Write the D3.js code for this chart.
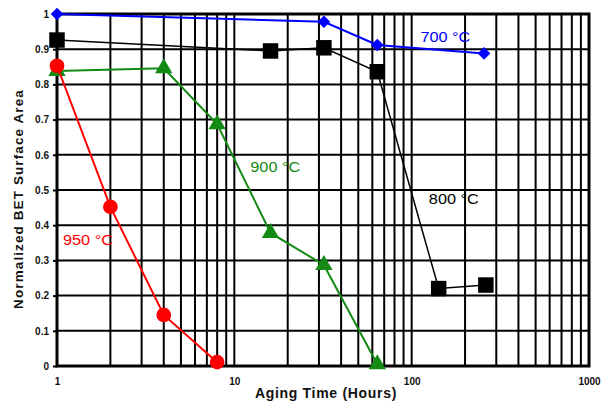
<!DOCTYPE html>
<html>
<head>
<meta charset="utf-8">
<script src="https://cdn.jsdelivr.net/npm/d3@7"></script>
<style>
  html, body { margin: 0; padding: 0; background: #fff; }
  svg { display: block; }
  text { font-family: "Liberation Sans", Arial, sans-serif; }
</style>
</head>
<body>
<svg id="chart" width="606" height="404"></svg>
<script>
// Aging time (hours) and normalized BET surface area for each aging temperature
const hours700 = [1, 32, 64, 256];
const area700 = [1.0, 0.978, 0.912, 0.888];

const hours800 = [1, 16, 32, 64, 142, 262];
const area800 = [0.926, 0.895, 0.904, 0.836, 0.22, 0.23];

const hours900 = [1, 4, 8, 16, 32, 64];
const area900 = [0.838, 0.846, 0.687, 0.378, 0.287, 0.005];

const hours950 = [1, 2, 4, 8];
const area950 = [0.853, 0.452, 0.145, 0.011];

const xTickValues = [1, 10, 100, 1000];
const yTickValues = [0, 0.1, 0.2, 0.3, 0.4, 0.5, 0.6, 0.7, 0.8, 0.9, 1];
const yTickLabels = ["0", "0.1", "0.2", "0.3", "0.4", "0.5", "0.6", "0.7", "0.8", "0.9", "1"];

const seriesNames = ["700 °C", "800 °C", "900 °C", "950 °C"];

const svg = d3.select("#chart");
const x = d3.scaleLog().domain([1, 1000]).range([57, 589]);
const y = d3.scaleLinear().domain([0, 1]).range([366, 14]);

// grid: horizontal lines every 0.1, vertical lines at each log minor tick
const grid = svg.append("g");
grid.selectAll("line.h").data(yTickValues).join("line")
  .attr("x1", x(1)).attr("x2", x(1000))
  .attr("y1", d => y(d)).attr("y2", d => y(d))
  .attr("stroke", "#000").attr("stroke-width", 2);
const minor = x.ticks(30).filter(v => v > 1 && v < 1000);
grid.selectAll("line.v").data(minor).join("line")
  .attr("x1", d => x(d)).attr("x2", d => x(d))
  .attr("y1", y(0)).attr("y2", y(1))
  .attr("stroke", "#000").attr("stroke-width", 2);

// plot frame
svg.append("rect")
  .attr("x", x(1)).attr("y", y(1))
  .attr("width", x(1000) - x(1)).attr("height", y(0) - y(1))
  .attr("fill", "none").attr("stroke", "#000").attr("stroke-width", 3);

// y axis ticks and labels
const yAxis = d3.axisLeft(y).tickValues(yTickValues)
  .tickFormat((d, i) => yTickLabels[i]).tickSize(4).tickPadding(4);
const gy = svg.append("g").attr("transform", `translate(${x(1)},0)`).call(yAxis);
gy.select(".domain").remove();
gy.selectAll(".tick line").attr("stroke", "#000").attr("stroke-width", 2);
gy.selectAll(".tick text").attr("font-size", 10).attr("font-weight", "bold").attr("fill", "#111");

// x axis labels
const xAxis = d3.axisBottom(x).tickValues(xTickValues).tickFormat(d3.format("d")).tickSize(0).tickPadding(12);
const gx = svg.append("g").attr("transform", `translate(0,${y(0)})`).call(xAxis);
gx.select(".domain").remove();
gx.selectAll(".tick text").attr("font-size", 10).attr("font-weight", "bold").attr("fill", "#111");

// axis titles
svg.append("text")
  .attr("x", 326).attr("y", 398)
  .attr("text-anchor", "middle").attr("font-size", 14).attr("font-weight", "bold")
  .attr("fill", "#111").attr("letter-spacing", 0.7)
  .text("Aging Time (Hours)");
svg.append("text")
  .attr("transform", `translate(23,199) rotate(-90)`)
  .attr("text-anchor", "middle").attr("font-size", 13.5).attr("font-weight", "bold")
  .attr("fill", "#111").attr("letter-spacing", 1.1)
  .text("Normalized BET Surface Area");

const line = d3.line().x(d => x(d[0])).y(d => y(d[1]));
const zip = (a, b) => a.map((v, i) => [v, b[i]]);

// square-on-point diamond marker
const wideDiamond = {
  draw(ctx, size) {
    const r = Math.sqrt(size / 2);
    ctx.moveTo(0, -r); ctx.lineTo(r, 0); ctx.lineTo(0, r); ctx.lineTo(-r, 0); ctx.closePath();
  }
};

function drawSeries(hours, area, color, width, symbol, size) {
  const pts = zip(hours, area);
  const g = svg.append("g");
  g.append("path").datum(pts).attr("d", line)
    .attr("fill", "none").attr("stroke", color).attr("stroke-width", width);
  g.selectAll("path.m").data(pts).join("path")
    .attr("transform", d => `translate(${x(d[0])},${y(d[1])})`)
    .attr("d", d3.symbol().type(symbol).size(size))
    .attr("fill", color);
}

drawSeries(hours800, area800, "#000", 1.5, d3.symbolSquare, 240);
drawSeries(hours900, area900, "#138a13", 2, d3.symbolTriangle, 130);
drawSeries(hours950, area950, "#ff0000", 2, d3.symbolCircle, 170);
drawSeries(hours700, area700, "#0000ff", 2, wideDiamond, 80);

// series labels
const labelSpec = [
  { name: seriesNames[0], color: "#0000ff", h: 112, v: 0.92 },
  { name: seriesNames[1], color: "#000", h: 125, v: 0.46 },
  { name: seriesNames[2], color: "#138a13", h: 12.3, v: 0.551 },
  { name: seriesNames[3], color: "#ff0000", h: 1.08, v: 0.344 }
];
svg.selectAll("text.lbl").data(labelSpec).join("text")
  .attr("x", d => x(d.h)).attr("y", d => y(d.v))
  .attr("font-size", 14.5).attr("fill", d => d.color)
  .attr("textLength", 50).attr("lengthAdjust", "spacingAndGlyphs")
  .text(d => d.name);
</script>
</body>
</html>
